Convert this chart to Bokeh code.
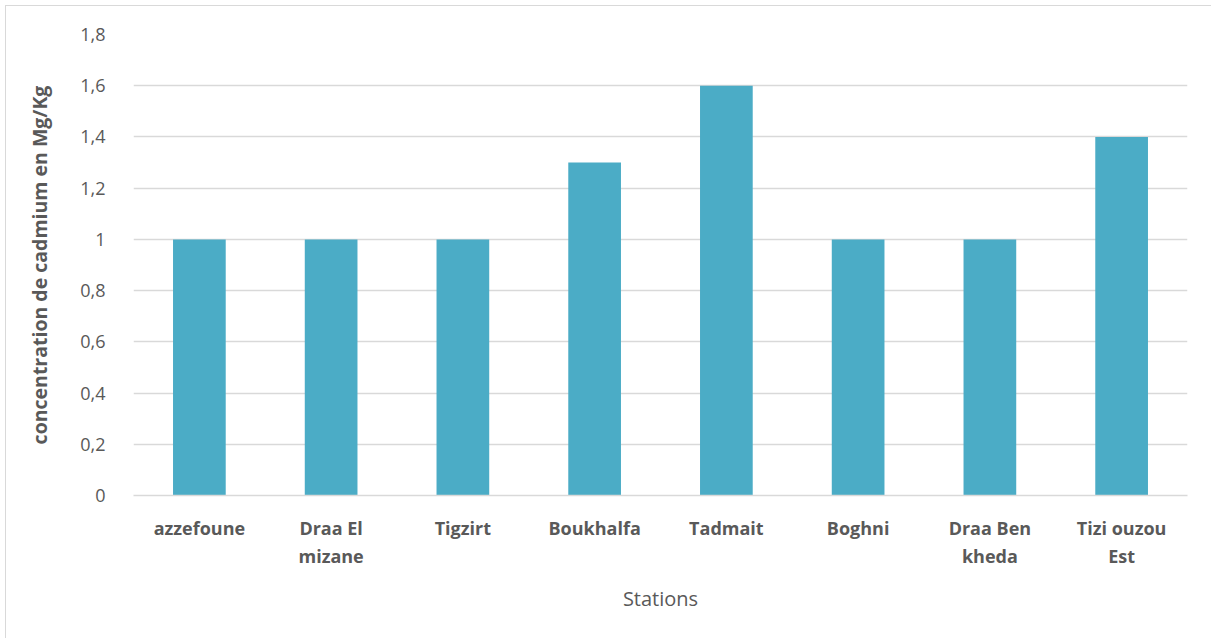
from bokeh.plotting import figure
from bokeh.models import CustomJSTickFormatter, FixedTicker, Range1d
from bokeh.embed import file_html
from bokeh.resources import INLINE

stations = ["azzefoune", "Draa El\nmizane", "Tigzirt", "Boukhalfa", "Tadmait",
            "Boghni", "Draa Ben\nkheda", "Tizi ouzou\nEst"]
cadmium = [1.0, 1.0, 1.0, 1.3, 1.6, 1.0, 1.0, 1.4]
y_ticks = [0, 0.2, 0.4, 0.6, 0.8, 1.0, 1.2, 1.4, 1.6, 1.8]

FONT = "Open Sans"
TXT = "#595959"

p = figure(x_range=stations, width=1206, height=633, output_backend="svg",
           toolbar_location=None, min_border_left=127, min_border_right=25,
           min_border_top=28, min_border_bottom=144)
p.styles = {"border-top": "1px solid #d9d9d9", "border-left": "1px solid #d9d9d9",
            "margin-left": "5px", "margin-top": "5px"}
p.y_range = Range1d(0, 1.8)
p.vbar(x=stations, top=cadmium, width=0.4, color="#4BACC6", line_color=None)

p.outline_line_color = None
p.xgrid.grid_line_color = None
p.ygrid.grid_line_color = "#d9d9d9"
p.ygrid.grid_line_width = 1.5

p.yaxis.ticker = FixedTicker(ticks=y_ticks)
p.yaxis.formatter = CustomJSTickFormatter(
    code="var s = (Math.round(tick*10)/10).toString(); return s.replace('.', ',');")
p.yaxis.axis_line_color = None
p.yaxis.major_tick_line_color = None
p.yaxis.minor_tick_line_color = None
p.yaxis.major_label_text_font = FONT
p.yaxis.major_label_text_font_size = "18px"
p.yaxis.major_label_text_color = TXT
p.yaxis.major_label_standoff = 22
p.yaxis.axis_label = "concentration de cadmium en Mg/Kg"
p.yaxis.axis_label_text_font = FONT
p.yaxis.axis_label_text_font_size = "19.5px"
p.yaxis.axis_label_text_font_style = "bold"
p.yaxis.axis_label_text_color = TXT
p.yaxis.axis_label_standoff = 24

p.xaxis.axis_line_color = "#d9d9d9"
p.xaxis.axis_line_width = 1.5
p.xaxis.major_tick_line_color = None
p.xaxis.minor_tick_line_color = None
p.xaxis.major_label_text_font = FONT
p.xaxis.major_label_text_font_size = "18px"
p.xaxis.major_label_text_font_style = "bold"
p.xaxis.major_label_text_color = TXT
p.xaxis.major_label_standoff = 14
p.xaxis.axis_label = "Stations"
p.xaxis.axis_label_text_font = FONT
p.xaxis.axis_label_text_font_size = "20px"
p.xaxis.axis_label_text_font_style = "normal"
p.xaxis.axis_label_text_color = TXT
p.xaxis.axis_label_standoff = 14

open("out.html", "w").write(file_html(p, INLINE))
